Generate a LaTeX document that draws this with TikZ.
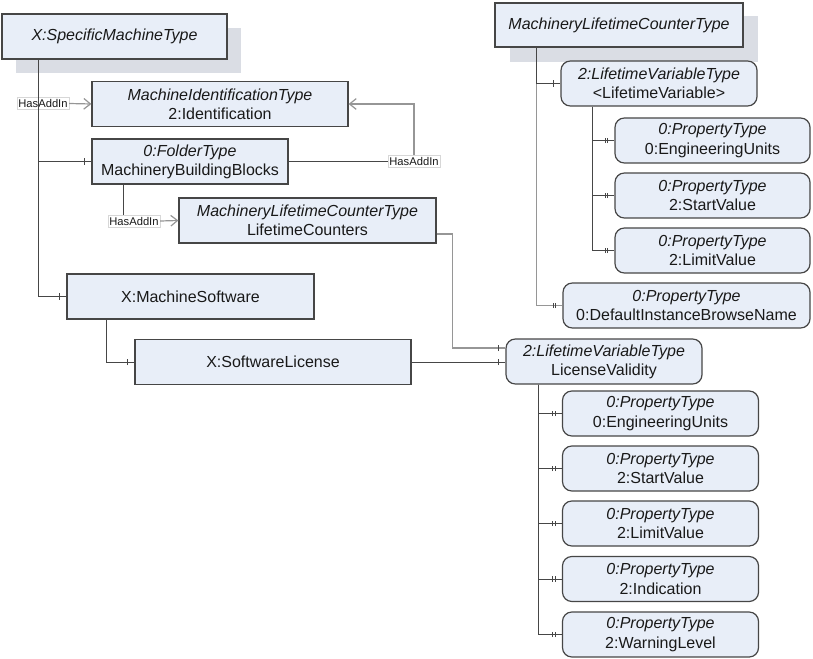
\documentclass[tikz,border=0pt]{standalone}
\usepackage{fontspec}
\setmainfont{Liberation Sans}
\usetikzlibrary{arrows.meta,calc,decorations.markings}
\definecolor{boxfill}{RGB}{232,238,248}
\definecolor{boxline}{RGB}{70,70,70}
\definecolor{shadowc}{RGB}{218,221,228}
\definecolor{gline}{RGB}{150,150,150}
\definecolor{txt}{RGB}{25,25,25}
\definecolor{lblline}{RGB}{215,215,215}
\tikzset{
  basebox/.style={draw=boxline, fill=boxfill, line width=0.9pt, inner sep=0pt,
    align=center, text=txt, font=\fontsize{12}{14.4}\selectfont, minimum height=33.75pt},
  objbox/.style={basebox},
  varbox/.style={basebox, rounded corners=7pt},
  conn/.style={draw=boxline, line width=0.75pt},
  gconn/.style={draw=gline, line width=0.8pt},
  onetick/.style={postaction={decorate, decoration={markings,
      mark=at position -5.25pt with {\draw[boxline, line width=0.7pt] (0,-2.4pt) -- (0,2.4pt);}}}},
  twotick/.style={postaction={decorate, decoration={markings,
      mark=at position -5.25pt with {\draw[boxline, line width=0.6pt] (0,-1.9pt) -- (0,1.9pt);},
      mark=at position -6.9pt with {\draw[boxline, line width=0.6pt] (0,-1.9pt) -- (0,1.9pt);}}}},
  addin/.style={draw=gline, line width=0.9pt, -{Straight Barb[length=5pt,width=8pt]}},
  lbl/.style={draw=lblline, fill=white, line width=0.4pt, inner xsep=1pt, inner ysep=1.5pt,
    text=txt, font=\fontsize{8.4}{9}\selectfont},
}
\begin{document}
\begin{tikzpicture}[x=0.75pt,y=-0.75pt]
\useasboundingbox (0,0) rectangle (813,659);
% shadows
\fill[shadowc] (16,28) rectangle (241,73);
\fill[shadowc] (510,16) rectangle (758,62);
% left tree nodes
\node[objbox, minimum width=168.75pt] (smt) at (114.5,36.5) {\itshape X:SpecificMachineType};
\node[objbox, minimum width=192pt] (mid) at (220,104) {\itshape MachineIdentificationType\\2:Identification};
\node[objbox, minimum width=147pt] (mbb) at (190,161.5) {\itshape 0:FolderType\\MachineryBuildingBlocks};
\node[objbox, minimum width=192.75pt] (lc) at (307.5,220.5) {\itshape MachineryLifetimeCounterType\\LifetimeCounters};
\node[objbox, minimum width=185.25pt] (ms) at (190.5,296.5) {X:MachineSoftware};
\node[objbox, minimum width=207pt] (sl) at (273,362) {X:SoftwareLicense};
% right tree nodes
\node[objbox, minimum width=186pt, minimum height=33pt] (mlct) at (619,25) {\itshape MachineryLifetimeCounterType};
\node[varbox, minimum width=147pt] (lv) at (659,83.5) {\itshape 2:LifetimeVariableType\\\normalfont <LifetimeVariable>};
\node[varbox, minimum width=146.25pt] (eu1) at (712.5,140.5) {\itshape 0:PropertyType\\\normalfont 0:EngineeringUnits};
\node[varbox, minimum width=146.25pt] (sv1) at (712.5,195.5) {\itshape 0:PropertyType\\\normalfont 2:StartValue};
\node[varbox, minimum width=146.25pt] (lim1) at (712.5,250.5) {\itshape 0:PropertyType\\\normalfont 2:LimitValue};
\node[varbox, minimum width=185.25pt] (dib) at (686.5,305.5) {\itshape 0:PropertyType\\\normalfont 0:DefaultInstanceBrowseName};
\node[varbox, minimum width=147pt] (lval) at (604,361.5) {\itshape 2:LifetimeVariableType\\\normalfont LicenseValidity};
\node[varbox, minimum width=147pt] (eu2) at (660.5,413.5) {\itshape 0:PropertyType\\\normalfont 0:EngineeringUnits};
\node[varbox, minimum width=147pt] (sv2) at (660.5,468.5) {\itshape 0:PropertyType\\\normalfont 2:StartValue};
\node[varbox, minimum width=147pt] (lim2) at (660.5,523.5) {\itshape 0:PropertyType\\\normalfont 2:LimitValue};
\node[varbox, minimum width=147pt] (ind) at (660.5,579) {\itshape 0:PropertyType\\\normalfont 2:Indication};
\node[varbox, minimum width=147pt] (wl) at (660.5,634.5) {\itshape 0:PropertyType\\\normalfont 2:WarningLevel};
% HasAddIn labels
\node[lbl] (ha1) at (43,103.5) {HasAddIn};
\node[lbl] (ha2) at (414,161.5) {HasAddIn};
\node[lbl] (ha3) at (134,221) {HasAddIn};
% left tree connectors
\draw[conn, onetick] ($(smt.south west)+(37,0)$) |- (ms.west);
\draw[conn, onetick] ($(smt.south west)+(37,0)$) |- (mbb.west);
\draw[addin] (ha1.east) -- (mid.west);
\draw[conn] (mbb.east) -- (ha2.west);
\draw[addin] (ha2.north) |- (mid.east);
\draw[conn] ($(mbb.south west)+(32,0)$) coordinate (t3) -- (t3 |- ha3.north);
\draw[addin] (ha3.east) -- (lc.west);
\draw[conn, onetick] ($(ms.south west)+(40,0)$) |- (sl.west);
\draw[conn, onetick] (sl.east) -- (sl.east -| lval.west);
\draw[gconn, onetick] ($(lc.east)+(0,13.5)$) -- ++(16,0) |- ($(lval.west)+(0,-13.5)$);
% right tree connectors
\draw[gconn, twotick] ($(mlct.south west)+(42,0)$) |- (dib.west);
\draw[conn, onetick] ($(mlct.south west)+(42,0)$) |- (lv.west);
\foreach \c in {eu1,sv1,lim1}
  \draw[conn, twotick] ($(lv.south west)+(32,0)$) |- (\c.west);
\foreach \c in {eu2,sv2,lim2,ind,wl}
  \draw[conn, twotick] ($(lval.south west)+(33,0)$) |- (\c.west);
\end{tikzpicture}
\end{document}
